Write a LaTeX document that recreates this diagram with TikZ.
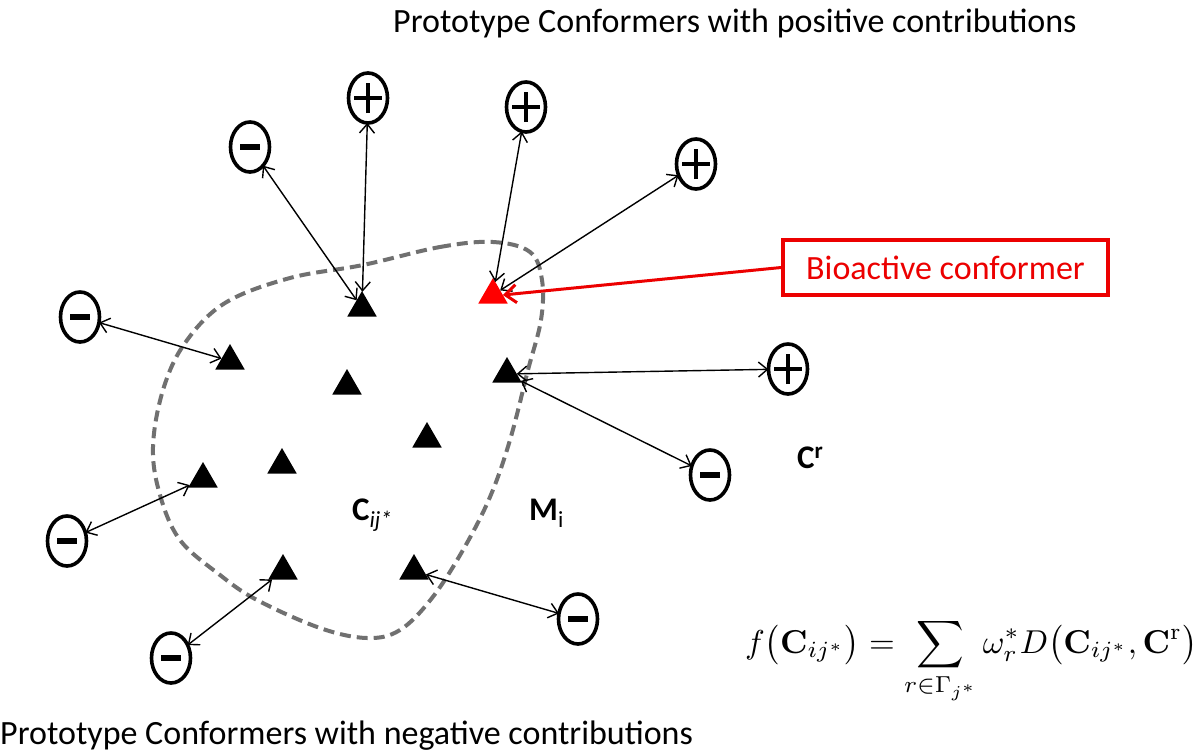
\documentclass[tikz,border=0pt]{standalone}
\usepackage[no-math]{fontspec}
\usepackage{graphicx}
\setmainfont{Carlito}
\usetikzlibrary{arrows.meta,shapes.geometric}
\definecolor{dashgray}{RGB}{112,112,112}
\definecolor{bioRed}{RGB}{236,0,0}
\begin{document}
\begin{tikzpicture}[x=1pt,y=-1pt,
  conf/.style={ellipse, draw, line width=3.6pt, minimum width=39pt, minimum height=50pt, inner sep=0pt, outer sep=0pt},
  plusconf/.style={conf, path picture={
     \draw[line width=4.5pt] ([xshift=-14pt]path picture bounding box.center) -- ([xshift=14pt]path picture bounding box.center);
     \draw[line width=4.5pt] ([yshift=-15pt]path picture bounding box.center) -- ([yshift=15pt]path picture bounding box.center);}},
  negconf/.style={conf, path picture={
     \draw[line width=5.5pt] ([xshift=-10pt]path picture bounding box.center) -- ([xshift=10pt]path picture bounding box.center);}},
  tri/.style={regular polygon, regular polygon sides=3, fill=black, minimum size=34pt, inner sep=0pt, outer sep=0pt},
  redtri/.style={tri, fill=red},
  link/.style={<->, line width=1.4pt, >={Straight Barb[length=9pt,width=15pt]}},
  redlink/.style={->, bioRed, line width=3pt, >={Straight Barb[length=11pt,width=18pt]}},
  bigtext/.style={font=\fontsize{34}{40}\selectfont, inner sep=0pt},
  lbl/.style={font=\fontsize{33}{40}\selectfont\bfseries, inner sep=0pt},
  biobox/.style={draw=bioRed, line width=3.6pt, text=bioRed, minimum width=325pt, minimum height=55pt, font=\fontsize{34}{40}\selectfont}
]
\useasboundingbox[fill=white] (0,0) rectangle (1200,752);

% region boundary
\draw[dashgray, line width=4pt, dash pattern=on 11pt off 6pt]
  plot[smooth cycle, tension=0.6] coordinates {
  (363,265) (440,247) (493,242) (530,252) (542,280) (541,320) (528,370) (510,440)
  (490,497) (463,550) (432,598) (400,630) (367,638) (320,628) (257,600) (220,575)
  (180,540) (160,495) (153,447) (163,390) (185,343) (225,303) (290,278)};

% triangles (conformers)
\node[tri] (t1) at (362,308) {};
\node[redtri] (tr) at (493,295) {};
\node[tri] (t2) at (230,361) {};
\node[tri] (t3) at (347,386) {};
\node[tri] (t4) at (507,374) {};
\node[tri] (t5) at (427,439) {};
\node[tri] (t6) at (282,465) {};
\node[tri] (t7) at (203,479) {};
\node[tri] (t8) at (283,571) {};
\node[tri] (t9) at (414,571) {};

% prototype conformers
\node[negconf] (m1) at (250,147) {};
\node[plusconf] (p1) at (368,98) {};
\node[plusconf] (p2) at (526,107) {};
\node[plusconf] (p3) at (696,164) {};
\node[negconf] (m2) at (80,317) {};
\node[plusconf] (p4) at (788,369) {};
\node[negconf] (m3) at (710,475) {};
\node[negconf] (m4) at (67,541) {};
\node[negconf] (m5) at (171,658) {};
\node[negconf] (m6) at (578,619) {};

% links
\draw[link] (m1) -- (t1);
\draw[link] (p1) -- (t1);
\draw[link] (p2) -- (tr);
\draw[link] (p3) -- (tr);
\draw[link] (m2) -- (t2);
\draw[link] (p4) -- (t4);
\draw[link] (m3) -- (t4);
\draw[link] (m4) -- (t7);
\draw[link] (m5) -- (t8);
\draw[link] (m6) -- (t9);

% bioactive box
\node[biobox] (bio) at (945.5,267.5) {Bioactive conformer};
\draw[redlink] (bio.west) -- (tr.east);

% labels
\node[lbl, anchor=base west] (cij) at (352,520) {C\textsubscript{\mdseries\itshape ij*}};
\node[lbl, anchor=base west] (mi) at (529,520) {M\textsubscript{\mdseries i}};
\node[lbl, anchor=base west] (cr) at (797,468) {C\textsuperscript{r}};

% formula
\node[anchor=base west, inner sep=0pt] (fx) at (745,653)
  {\resizebox{452pt}{!}{$\displaystyle f\bigl(\mathbf{C}_{ij^*}\bigr) = \sum_{r\in\Gamma_{j^*}} \omega_r^{*} D\bigl(\mathbf{C}_{ij^*},\mathbf{C}^{\mathrm{r}}\bigr)$}};

% titles
\node[bigtext, anchor=base west] (ttop) at (393,33) {Prototype Conformers with positive contributions};
\node[bigtext, anchor=base west] (tbot) at (0,744) {Prototype Conformers with negative contributions};
\end{tikzpicture}
\end{document}
